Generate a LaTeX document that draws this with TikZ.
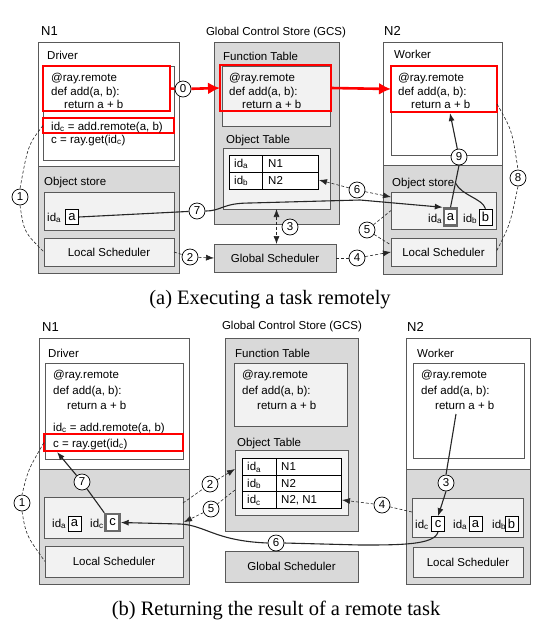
\documentclass[tikz,border=0pt]{standalone}
\usepackage{fontspec}
\setmainfont{Liberation Sans}
\newfontfamily\capfont{Liberation Serif}
\usetikzlibrary{arrows.meta,fit,calc}

\definecolor{panelgray}{HTML}{D9D9D9}
\definecolor{lightfill}{HTML}{F2F2F2}
\definecolor{edge}{HTML}{595959}
\definecolor{ink}{HTML}{262626}
\definecolor{hot}{HTML}{FF0000}
\definecolor{hlgray}{HTML}{6A6A6A}

\newcommand{\objid}[1]{id\textsubscript{#1}}

\tikzset{
  txt/.style={font=\fontsize{11.5}{13.5}\selectfont, inner sep=0pt, text=black},
  lbl/.style={txt, anchor=base west},
  big/.style={font=\fontsize{13}{15}\selectfont},
  panel/.style={draw=edge, line width=0.8pt, inner sep=0pt, outer sep=0pt},
  redbox/.style={draw=hot, line width=2.6pt, inner sep=0pt, outer sep=0pt},
  tbl/.style={draw=black, line width=0.6pt, fill=white, inner sep=0pt, outer sep=0pt},
  objbox/.style={draw=black, line width=0.6pt, fill=white, inner sep=0pt,
    minimum width=13pt, minimum height=15pt, font=\fontsize{13}{15}\selectfont},
  hl/.style={draw=hlgray, line width=2.4pt},
  numc/.style={circle, draw=black, line width=0.7pt, fill=white, minimum size=16pt,
    inner sep=0pt, font=\fontsize{11.5}{13.5}\selectfont},
  conn/.style={draw=ink, line width=1.1pt},
  tip/.style={-{Latex[length=8pt,width=6pt]}},
  dashc/.style={draw=ink, line width=0.6pt, dash pattern=on 3pt off 2pt},
  redline/.style={draw=hot, line width=2.6pt},
  redtip/.style={-{Latex[length=12pt,width=12pt]}},
  caption/.style={font=\capfont\fontsize{20.5}{24}\selectfont, inner sep=0pt},
}

\begin{document}
\begin{tikzpicture}[x=1pt,y=-1pt]
\useasboundingbox (0,0) rectangle (551,638);

% =================== (a) executing a task remotely ===================
% ---- node N1 ----
\node[lbl, big] (a-n1t) at (41,35) {N1};
\node[panel, fill=white, fit={(38,42)(179,273)}] (a-n1box) {};
\node[panel, fill=panelgray, fit={(38,166)(179,273)}] (a-n1low) {};
\node[lbl] (a-drvt) at (47,59) {Driver};
\node[panel, fill=white, fit={(43,66)(174,160)}] (a-drvbox) {};
\node[redbox, fit={(43,66)(170,111)}] (a-fn1) {};
\node[redbox, fit={(43,118)(174,133)}] (a-call) {};
\node[lbl] (a-d1) at (51,81) {@ray.remote};
\node[lbl] (a-d2) at (51,95) {def add(a, b):};
\node[lbl] (a-d3) at (64,108) {return a + b};
\node[lbl] (a-d4) at (51,130) {\objid{c} = add.remote(a, b)};
\node[lbl] (a-d5) at (51,143) {c = ray.get(\objid{c})};
\node[lbl] (a-os1t) at (44,185) {Object store};
\node[panel, fill=lightfill, fit={(44,192)(174,230)}] (a-os1) {};
\node[lbl] (a-ida1) at (47,221) {\objid{a}};
\node[objbox] (a-obja1) at (72,217) {a};
\node[panel, fill=lightfill, fit={(44,238)(174,266)}] (a-ls1) {};
\node[txt] (a-ls1t) at (a-ls1.center) {Local Scheduler};

% ---- global control store ----
\node[txt, anchor=base] (a-gcst) at (276,35) {Global Control Store (GCS)};
\node[panel, fill=panelgray, fit={(214,42)(339,224)}] (a-gcs) {};
\node[lbl] (a-ftt) at (223,60) {Function Table};
\node[panel, fill=lightfill, fit={(222,66)(330,126)}] (a-ft) {};
\node[redbox, fit={(220,65)(331,111)}] (a-fn2) {};
\node[lbl] (a-g1) at (229,81) {@ray.remote};
\node[lbl] (a-g2) at (229,95) {def add(a, b):};
\node[lbl] (a-g3) at (242,108) {return a + b};
\node[lbl] (a-ott) at (226,143) {Object Table};
\node[panel, fill=lightfill, fit={(223,148)(330,209)}] (a-ot) {};
\node[tbl, fit={(229,155)(318,189)}] (a-tab) {};
\draw[line width=0.6pt] (229,172) -- (318,172) (262,155) -- (262,189);
\node[lbl] (a-t1) at (234,167) {\objid{a}};
\node[lbl] (a-t2) at (268,167) {N1};
\node[lbl] (a-t3) at (234,184) {\objid{b}};
\node[lbl] (a-t4) at (268,184) {N2};
\node[panel, fill=panelgray, fit={(214,244)(336,272)}] (a-gs) {};
\node[txt] (a-gst) at (a-gs.center) {Global Scheduler};

% ---- node N2 ----
\node[lbl, big] (a-n2t) at (384,35) {N2};
\node[panel, fill=white, fit={(383,42)(502,274)}] (a-n2box) {};
\node[panel, fill=panelgray, fit={(383,165)(502,274)}] (a-n2low) {};
\node[lbl] (a-wkt) at (394,58) {Worker};
\node[panel, fill=white, fit={(391,66)(497,155)}] (a-wkbox) {};
\node[redbox, fit={(391,66)(497,112)}] (a-fn3) {};
\node[lbl] (a-w1) at (398,81) {@ray.remote};
\node[lbl] (a-w2) at (398,95) {def add(a, b):};
\node[lbl] (a-w3) at (411,108) {return a + b};
\node[lbl] (a-os2t) at (392,186) {Object store};
\node[panel, fill=lightfill, fit={(391,192)(496,229)}] (a-os2) {};
\node[lbl] (a-ida2) at (428,222) {\objid{a}};
\node[objbox, hl, minimum height=17pt] (a-obja2) at (450.5,217) {a};
\node[lbl] (a-idb2) at (463,222) {\objid{b}};
\node[objbox, minimum height=16pt] (a-objb2) at (485.5,217) {b};
\node[panel, fill=lightfill, fit={(391,238)(496,266)}] (a-ls2) {};
\node[txt] (a-ls2t) at (a-ls2.center) {Local Scheduler};

% ---- step markers ----
\node[numc] (a-c0) at (183,89) {0};
\node[numc] (a-c1) at (20,197) {1};
\node[numc] (a-c2) at (190,257) {2};
\node[numc] (a-c3) at (290,227) {3};
\node[numc] (a-c4) at (357,258) {4};
\node[numc] (a-c5) at (367,230) {5};
\node[numc] (a-c6) at (357,190) {6};
\node[numc] (a-c7) at (197,211) {7};
\node[numc] (a-c8) at (518,178) {8};
\node[numc] (a-c9) at (459,157) {9};

\coordinate (a-p5) at (391,245);
\coordinate (a-p6a) at (319,180);
\coordinate (a-p6b) at (391,197);
\coordinate (a-p8) at (497,104);
\coordinate (a-p9) at (450,113);

% ---- connectors ----
\draw[redline] (a-fn1.east) -- (a-c0);
\draw[redline, redtip] (a-c0) -- (a-fn2.west);
\draw[redline, redtip] (a-fn2.east) -- (a-fn3.west);
\draw[dashc] (a-call.west) .. controls (28,145) .. (a-c1.north);
\draw[dashc] (a-c1.south) .. controls (24,232) .. (a-ls1.west);
\draw[dashc] (a-ls1.east) -- (a-c2);
\draw[dashc, tip] (a-c2) -- (a-gs.west);
\draw[dashc, {Latex[length=8pt,width=6pt]}-{Latex[length=8pt,width=6pt]}] (a-ot.south) -- (a-ot.south |- a-gs.north);
\draw[dashc] (a-gs.east) -- (a-c4);
\draw[dashc, tip] (a-c4) -- (a-ls2.west);
\draw[dashc] (a-c5) -- (a-os2.west);
\draw[dashc] (a-c5) -- (a-p5);
\draw[dashc, tip] (a-c6) -- (a-p6a);
\draw[dashc, tip] (a-c6) -- (a-p6b);
\draw[conn] (a-obja1.east) -- (a-c7);
\draw[conn, tip] (a-c7.east) .. controls (222,211) and (222,203) .. (250,203) -- (360,200) -- (a-obja2.north west);
\draw[dashc] (a-p8) .. controls (512,130) .. (a-c8.north);
\draw[dashc] (a-c8.south) .. controls (510,225) .. (a-ls2.east);
\draw[conn, tip] (a-c9) -- (a-p9);
\draw[conn] (a-c9.south) -- (a-obja2.north);
\draw[conn] ($(a-c9.south)!0.42!(a-obja2.north)$) .. controls (462,196) and (482,198) .. (a-objb2.north);

\node[caption] (a-cap) at (270,300) {(a) Executing a task remotely};

% =================== (b) returning the result ===================
% ---- node N1 ----
\node[lbl, big] (b-n1t) at (42,331) {N1};
\node[panel, fill=white, fit={(39,338)(189,584)}] (b-n1box) {};
\node[panel, fill=panelgray, fit={(39,469)(189,584)}] (b-n1low) {};
\node[lbl] (b-drvt) at (48,357) {Driver};
\node[panel, fill=white, fit={(45,363)(183,459)}] (b-drvbox) {};
\node[lbl] (b-d1) at (53,378) {@ray.remote};
\node[lbl] (b-d2) at (53,394) {def add(a, b):};
\node[lbl] (b-d3) at (67,409) {return a + b};
\node[lbl] (b-d4) at (53,431) {\objid{c} = add.remote(a, b)};
\node[redbox, fit={(44,434)(183,451)}] (b-get) {};
\node[lbl] (b-d5) at (53,447) {c = ray.get(\objid{c})};
\node[panel, fill=lightfill, fit={(44,497)(183,538)}] (b-os1) {};
\node[lbl] (b-ida1) at (52,527) {\objid{a}};
\node[objbox] (b-obja1) at (74.5,523.5) {a};
\node[lbl] (b-idc1) at (90,527) {\objid{c}};
\node[objbox, hl, minimum width=14pt, minimum height=17pt] (b-objc1) at (112.5,522.5) {c};
\node[panel, fill=lightfill, fit={(45,546)(183,577)}] (b-ls1) {};
\node[txt] (b-ls1t) at (b-ls1.center) {Local Scheduler};

% ---- global control store ----
\node[txt, anchor=base] (b-gcst) at (292,329) {Global Control Store (GCS)};
\node[panel, fill=panelgray, fit={(225,338)(358,531)}] (b-gcs) {};
\node[lbl] (b-ftt) at (235,357) {Function Table};
\node[panel, fill=lightfill, fit={(234,363)(347,426)}] (b-ft) {};
\node[lbl] (b-g1) at (242,378) {@ray.remote};
\node[lbl] (b-g2) at (242,394) {def add(a, b):};
\node[lbl] (b-g3) at (257,409) {return a + b};
\node[lbl] (b-ott) at (237,446) {Object Table};
\node[panel, fill=lightfill, fit={(235,450)(348,515)}] (b-ot) {};
\node[tbl, fit={(242,458)(341,508)}] (b-tab) {};
\draw[line width=0.6pt] (242,475) -- (341,475) (242,491) -- (341,491) (276,458) -- (276,508);
\node[lbl] (b-t1) at (247,470.5) {\objid{a}};
\node[lbl] (b-t2) at (281,470.5) {N1};
\node[lbl] (b-t3) at (247,487) {\objid{b}};
\node[lbl] (b-t4) at (281,487) {N2};
\node[lbl] (b-t5) at (247,503.5) {\objid{c}};
\node[lbl] (b-t6) at (281,503.5) {N2, N1};
\node[panel, fill=panelgray, fit={(225,551)(358,582)}] (b-gs) {};
\node[txt] (b-gst) at (b-gs.center) {Global Scheduler};

% ---- node N2 ----
\node[lbl, big] (b-n2t) at (407,331) {N2};
\node[panel, fill=white, fit={(406,338)(530,584)}] (b-n2box) {};
\node[panel, fill=panelgray, fit={(406,469)(530,584)}] (b-n2low) {};
\node[lbl] (b-wkt) at (417,357) {Worker};
\node[panel, fill=white, fit={(413,363)(524,458)}] (b-wkbox) {};
\node[lbl] (b-w1) at (421,378) {@ray.remote};
\node[lbl] (b-w2) at (421,394) {def add(a, b):};
\node[lbl] (b-w3) at (435,409) {return a + b};
\node[panel, fill=lightfill, fit={(412,498)(523,537)}] (b-os2) {};
\node[lbl] (b-idc2) at (415,528) {\objid{c}};
\node[objbox] (b-objc2) at (438,524) {c};
\node[lbl] (b-ida2) at (453,528) {\objid{a}};
\node[objbox] (b-obja2) at (475.5,524) {a};
\node[lbl] (b-idb2) at (492,528) {\objid{b}};
\node[objbox] (b-objb2) at (511.5,524) {b};
\node[panel, fill=lightfill, fit={(413,547)(523,577)}] (b-ls2) {};
\node[txt] (b-ls2t) at (b-ls2.center) {Local Scheduler};

% ---- step markers ----
\node[numc] (b-c1) at (22,503) {1};
\node[numc] (b-c2) at (210,484) {2};
\node[numc] (b-c3) at (446,483) {3};
\node[numc] (b-c4) at (382,505) {4};
\node[numc] (b-c5) at (211,509) {5};
\node[numc] (b-c6) at (276,543) {6};
\node[numc] (b-c7) at (82,482) {7};

\coordinate (b-p2a) at (183,503);
\coordinate (b-p2b) at (235,469);
\coordinate (b-p5a) at (235,490);
\coordinate (b-p5b) at (184,522);
\coordinate (b-p4a) at (412,512);
\coordinate (b-p4b) at (342,500);
\coordinate (b-p3) at (456,414);
\coordinate (b-p7) at (57,452);

% ---- connectors ----
\draw[dashc] (b-get.west) .. controls (28,470) .. (b-c1.north);
\draw[dashc] (b-c1.south) .. controls (26,535) .. (b-ls1.west);
\draw[dashc] (b-p2a) -- (b-c2);
\draw[dashc, tip] (b-c2) -- (b-p2b);
\draw[dashc] (b-p5a) -- (b-c5);
\draw[dashc, tip] (b-c5) -- (b-p5b);
\draw[dashc] (b-p4a) -- (b-c4);
\draw[dashc, tip] (b-c4) -- (b-p4b);
\draw[conn] (b-p3) -- (b-c3.north);
\draw[conn, tip] (b-c3.south) -- (b-objc2.north);
\draw[conn] (b-objc2.south) .. controls (435,545) and (400,545) .. (360,545) -- (b-c6.east);
\draw[conn, tip] (b-c6.west) .. controls (215,541) and (205,525) .. (180,524) -- (b-objc1.east);
\draw[conn] (b-objc1.north west) -- (b-c7);
\draw[conn, tip] (b-c7) -- (b-p7);

\node[caption] (b-cap) at (276,610) {(b) Returning the result of a remote task};
\end{tikzpicture}
\end{document}
